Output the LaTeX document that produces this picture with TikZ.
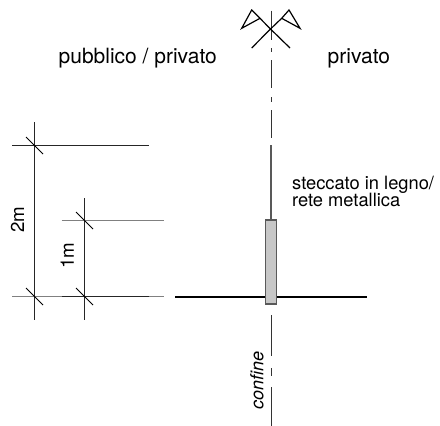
\documentclass[tikz,border=0pt]{standalone}
\usepackage{fontspec}
\setmainfont{TeX Gyre Heros}
\begin{document}
\begin{tikzpicture}[x=1pt,y=-1pt,
  thinl/.style={line width=1pt,black!85},
  grayl/.style={line width=1.3pt,black!50},
  tick/.style={line width=0.8pt,black},
  sym/.style={line width=1.2pt,black,line join=miter},
  cl/.style={line width=1pt,black!80},
  lab/.style={inner sep=0pt,anchor=base west,font=\fontsize{21}{21}\selectfont},
  dimlab/.style={inner sep=0pt,anchor=base west,font=\fontsize{18.7}{18.7}\selectfont},
  small/.style={inner sep=0pt,anchor=base west,font=\fontsize{18.3}{18.3}\selectfont}]
\useasboundingbox (0,0) rectangle (440,426);
% ground and post
\coordinate (gl) at (175,296.5); \coordinate (gr) at (367,296.5);
\draw[line width=2pt,black] (gl) -- (gr);
\node[draw=black!65,fill=black!22,line width=1.2pt,minimum width=11pt,minimum height=84pt,inner sep=0pt] (post) at (271,262) {};
\coordinate (ft) at (271,145);
\draw[line width=2.2pt,black!65] (ft) -- (post.north);
% centre line
\foreach \a/\b in {10.7/40,48/52,60/88,97/102,110/138,315/356,368/376,387/426}
  \draw[cl] (271,\a) -- (271,\b);
% north symbol
\coordinate (c) at (270.5,29);
\draw[sym] (251.7,48) -- (c) -- (290,48);
\draw[sym] (c) -- (260,18.3) -- (241.7,28.3) -- (251.7,10) -- (260,18.3);
\draw[sym] (c) -- (281.7,18.3) -- (300,28.3) -- (289,10) -- (281.7,18.3);
% dimensions
\draw[thinl] (12,145.5) -- (148.5,145.5);
\draw[grayl] (61.5,220.5) -- (164,220.5);
\draw[grayl] (12,296.5) -- (164,296.5);
\draw[thinl] (61.5,296.5) -- (148.5,296.5);
\draw[thinl] (34.5,122) -- (34.5,320);
\draw[thinl] (84.5,198) -- (84.5,320);
\foreach \x/\y in {34.5/145.5,84.5/220.5,34.5/296.5,84.5/296.5}
  \draw[tick] (\x-8.5,\y-8.5) -- (\x+8.5,\y+8.5);
% labels
\node[lab] (t1) at (58.5,63.5) {pubblico / privato};
\node[lab] (t2) at (327.5,63.5) {privato};
\node[small] (t3) at (292,189.5) {steccato in legno/};
\node[small] (t4) at (292,206) {rete metallica};
\node[dimlab,rotate=90] (t5) at (24,233) {2m};
\node[dimlab,rotate=90] (t6) at (74,269) {1m};
\node[small,rotate=90,font=\fontsize{18}{18}\selectfont\itshape] (t7) at (263.3,410) {confine};
\end{tikzpicture}
\end{document}
